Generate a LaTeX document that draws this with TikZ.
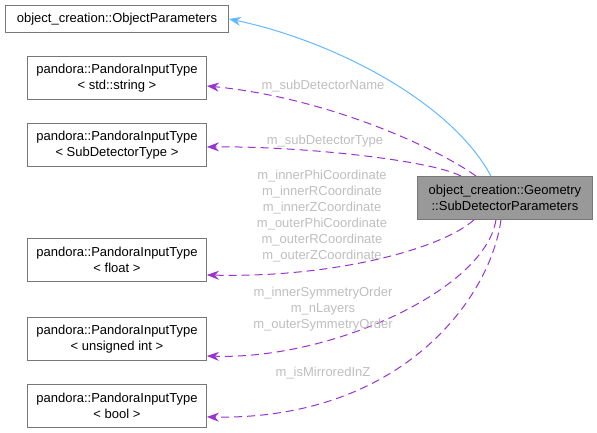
\documentclass[tikz,border=0pt]{standalone}
\usepackage{fontspec}
\setmainfont{Liberation Sans}
\usetikzlibrary{positioning,arrows.meta}

\definecolor{boxline}{HTML}{777777}
\definecolor{geofill}{HTML}{999999}
\definecolor{usecol}{HTML}{9A32CD}
\definecolor{inhcol}{HTML}{63B8FF}
\definecolor{lblcol}{HTML}{BEBEBE}

\tikzset{
  cls/.style={draw=boxline, line width=0.9pt, fill=white, anchor=north west,
    minimum width=179pt, minimum height=43pt, inner sep=0pt, align=center,
    font=\fontsize{13}{16}\selectfont},
  use/.style={usecol, line width=1pt, dash pattern=on 8pt off 5pt,
    -{Stealth[length=12pt,width=9pt]}},
  inh/.style={inhcol, line width=1pt, -{Stealth[length=12pt,width=9pt]}},
  lbl/.style={lblcol, align=center, inner sep=0pt, font=\fontsize{13}{16}\selectfont},
}

\begin{document}
\begin{tikzpicture}[x=1pt,y=-1pt]
  \useasboundingbox (0,0) rectangle (597,432);

  % classes
  \node[cls, minimum width=223pt, minimum height=27pt] (objpar) at (5,5) {object\_creation::ObjectParameters};
  \node[cls] (pstring) at (27,56)  {pandora::PandoraInputType\\< std::string >};
  \node[cls] (psubdet) at (27,123) {pandora::PandoraInputType\\< SubDetectorType >};
  \node[cls] (pfloat)  at (27,238) {pandora::PandoraInputType\\< float >};
  \node[cls] (puint)   at (27,317) {pandora::PandoraInputType\\< unsigned int >};
  \node[cls] (pbool)   at (27,384) {pandora::PandoraInputType\\< bool >};
  \node[cls, fill=geofill, minimum width=175pt] (geo) at (417,176) {object\_creation::Geometry\\::SubDetectorParameters};

  % inheritance
  \draw[inh] ([xshift=-14pt]geo.north) .. controls (450,100) and (330,40) .. (objpar.east);

  % members
  \draw[use] ([xshift=-29pt]geo.north) .. controls (440,150) and (330,98) .. ([yshift=-8pt]pstring.east);
  \draw[use] ([xshift=-44pt]geo.north) .. controls (430,160) and (300,146) .. ([yshift=-2pt]psubdet.east);
  \draw[use] ([xshift=-31pt]geo.south) .. controls (440,250) and (330,278) .. ([yshift=-15pt]pfloat.east);
  \draw[use] ([xshift=-9pt]geo.south) .. controls (485,290) and (330,360) .. ([yshift=-17pt]puint.east);
  \draw[use] ([xshift=-4pt]geo.south) .. controls (490,300) and (400,420) .. ([yshift=-11pt]pbool.east);

  \node[lbl] (lname) at (323,86) {m\_subDetectorName};
  \node[lbl] (ltype) at (325,141) {m\_subDetectorType};
  \node[lbl] (lcoord) at (322,216) {m\_innerPhiCoordinate\\m\_innerRCoordinate\\m\_innerZCoordinate\\m\_outerPhiCoordinate\\m\_outerRCoordinate\\m\_outerZCoordinate};
  \node[lbl] (lsym) at (323,309) {m\_innerSymmetryOrder\\m\_nLayers\\m\_outerSymmetryOrder};
  \node[lbl] (lmirr) at (323,373) {m\_isMirroredInZ};
\end{tikzpicture}
\end{document}
